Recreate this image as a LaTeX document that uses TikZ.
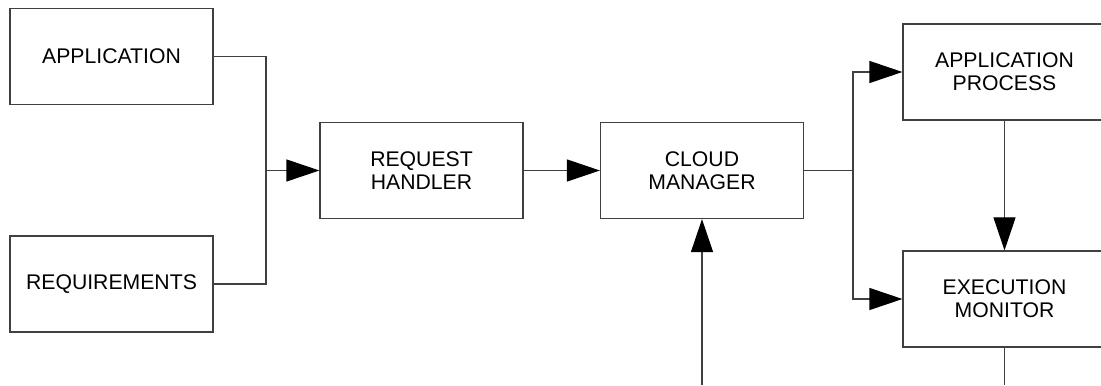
\documentclass[tikz,border=0pt]{standalone}
\usepackage{fontspec}
\setmainfont{Liberation Sans}
\usepackage{tikz}
\usetikzlibrary{arrows.meta}

\begin{document}
\begin{tikzpicture}[x=0.5pt, y=0.5pt, >={Triangle[length=16.5pt, width=11pt, color=black]},
	block/.style={draw=black!75, line width=0.6pt, minimum width=101.5pt, minimum height=48pt, inner sep=0pt, align=center, font=\fontsize{10.6}{11.7}\selectfont},
	wire/.style={draw=black!75, line width=0.6pt}]
\useasboundingbox (0,0) rectangle (1101,385);
\node[block] (app) at (111.5, 328.5) {APPLICATION};
\node[block] (req) at (111.5, 101) {REQUIREMENTS};
\node[block] (rh) at (421.5, 214.5) {REQUEST\\HANDLER};
\node[block] (cm) at (702, 214.5) {CLOUD\\MANAGER};
\node[block] (ap) at (1004.5, 313) {APPLICATION\\PROCESS};
\node[block] (em) at (1004.5, 86) {EXECUTION\\MONITOR};
\coordinate (jin) at (266, 214.5);
\coordinate (jout) at (853, 214.5);
\coordinate (cmin) at (702, 0);
\coordinate (emout) at (1004.5, 0);
\draw[wire] (app.east) -| (jin) |- (req.east);
\draw[wire, ->] (jin) -- (rh.west);
\draw[wire, ->] (rh.east) -- (cm.west);
\draw[wire] (cm.east) -- (jout);
\draw[wire, ->] (jout) |- (ap.west);
\draw[wire, ->] (jout) |- (em.west);
\draw[wire, ->] (cmin) -- (cm.south);
\draw[wire, ->] (ap.south) -- (em.north);
\draw[wire] (em.south) -- (emout);
\end{tikzpicture}
\end{document}
